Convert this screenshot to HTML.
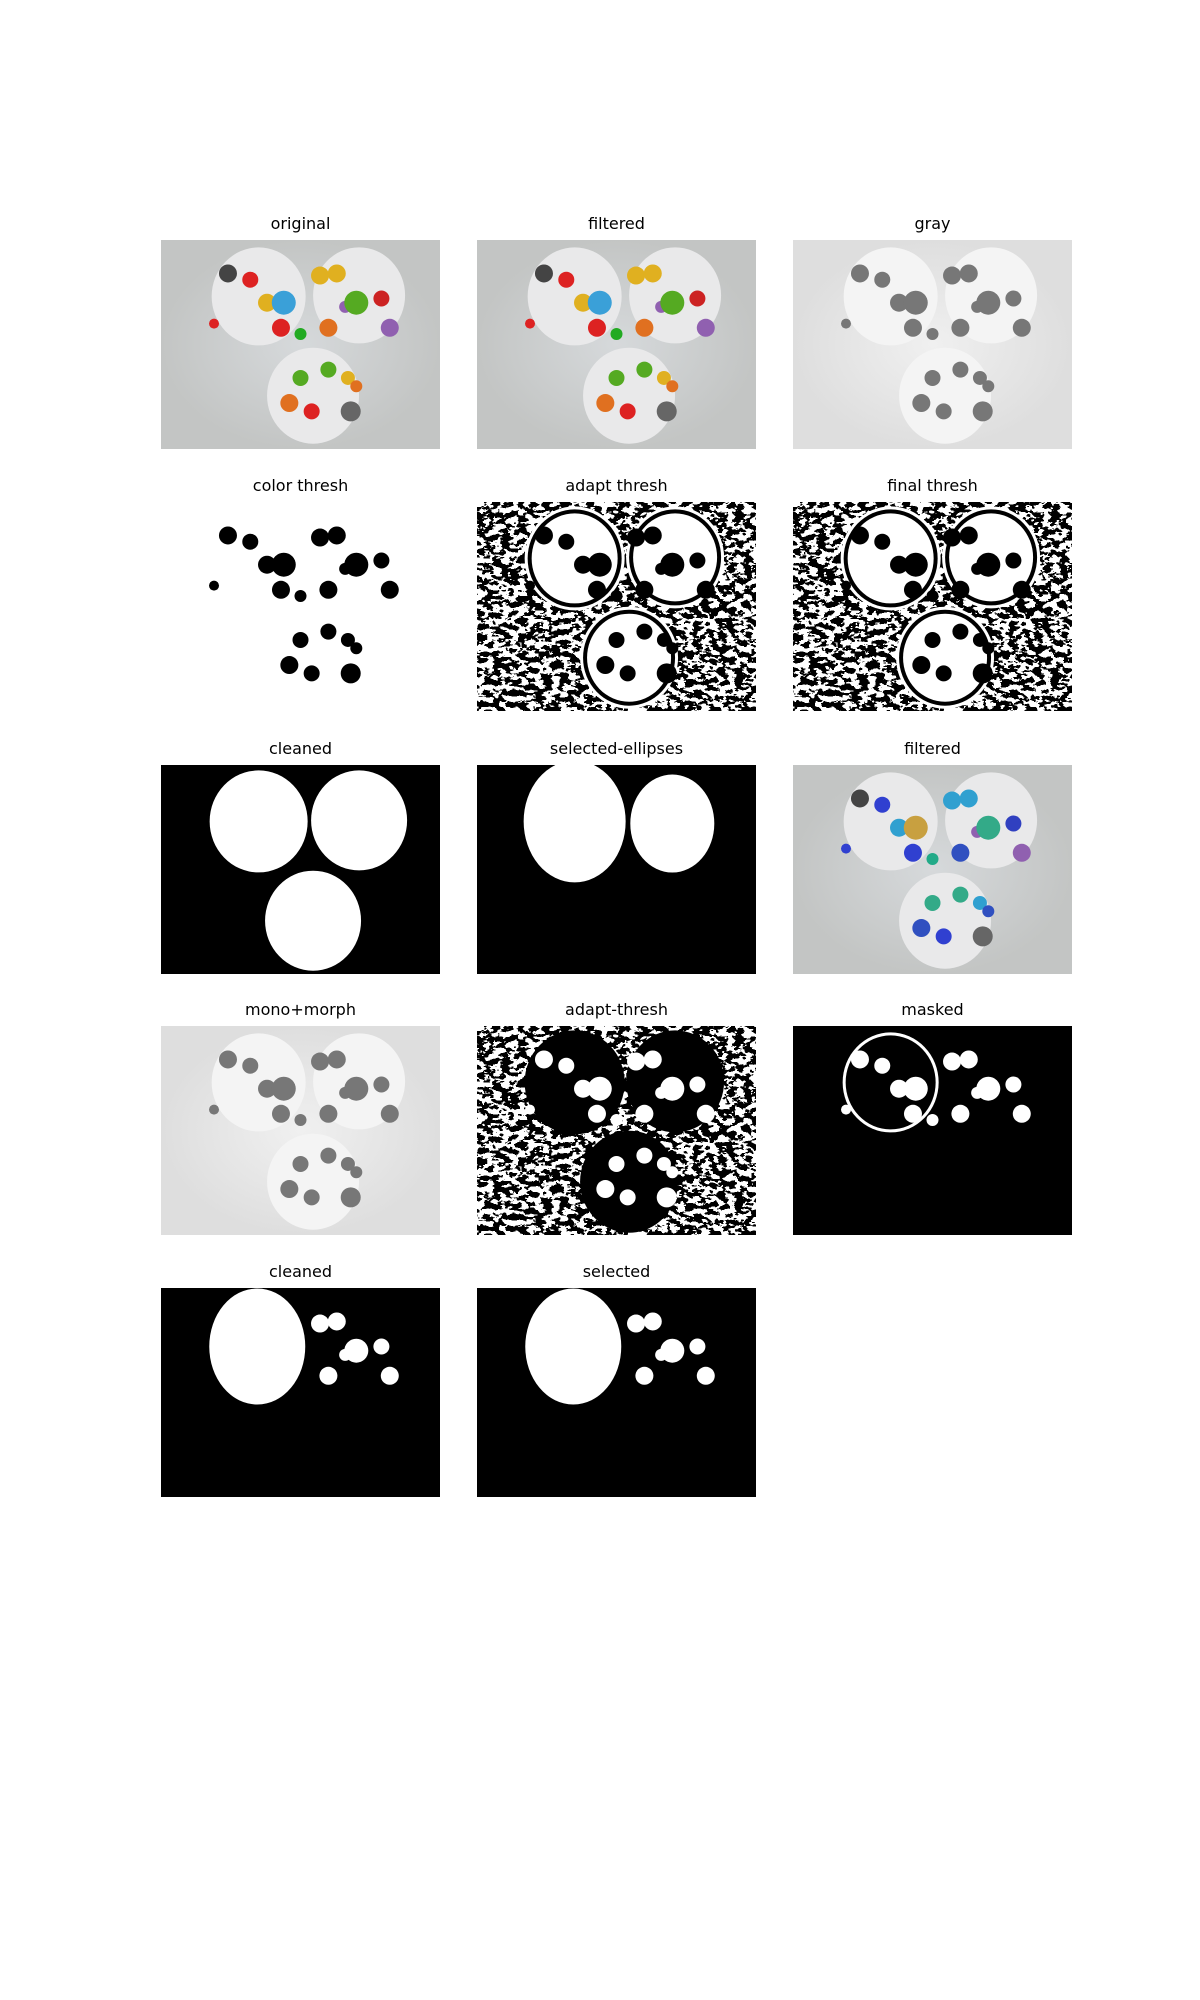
<!DOCTYPE html>
<html><head><meta charset="utf-8">
<style>
html,body{margin:0;padding:0;background:#fff;}
body{width:1200px;height:2000px;position:relative;overflow:hidden;font-family:"DejaVu Sans","Liberation Sans",sans-serif;}
.ttl{position:absolute;width:279px;text-align:center;font-size:16px;color:#000;line-height:20px;}
svg.p{position:absolute;}
</style></head>
<body>
<svg width="0" height="0" style="position:absolute">
<defs>
<filter id="noise" x="0" y="0" width="100%" height="100%">
<feTurbulence type="fractalNoise" baseFrequency="0.12 0.18" numOctaves="3" seed="4"/>
<feColorMatrix type="matrix" values="0.33 0.33 0.33 0 0 0.33 0.33 0.33 0 0 0.33 0.33 0.33 0 0 0 0 0 0 1"/>
<feComponentTransfer><feFuncR type="discrete" tableValues="0 1"/><feFuncG type="discrete" tableValues="0 1"/><feFuncB type="discrete" tableValues="0 1"/></feComponentTransfer>
</filter>
<radialGradient id="bg"><stop offset="0" stop-color="#d6d9db"/><stop offset="1" stop-color="#c3c5c4"/></radialGradient>
<radialGradient id="bgg"><stop offset="0" stop-color="#f0f0f0"/><stop offset="1" stop-color="#dedede"/></radialGradient>
</defs></svg>
<div id="root"></div>
<script>
const titles=["original","filtered","gray","color thresh","adapt thresh","final thresh","cleaned","selected-ellipses","filtered","mono+morph","adapt-thresh","masked","cleaned","selected"];
const kinds=["photo","photo","gray","color","noise","noise","clean","ellipse","blue","gray","noise2","masked","sel","sel"];
const colX=[161,477,793];
const rowY=[240,502,765,1026,1288];
const W=279,H=209;
const circCx=[0.35,0.71,0.545];
const circCy=[0.27,0.265,0.745];
const circR=[47,46,46];
const icX=[0.24,0.32,0.38,0.44,0.19,0.43,0.50,0.57,0.63,0.79,0.66,0.70,0.60,0.82,0.50,0.60,0.67,0.46,0.54,0.70,0.68];
const icY=[0.16,0.19,0.30,0.30,0.40,0.42,0.45,0.17,0.16,0.28,0.32,0.30,0.42,0.42,0.66,0.62,0.66,0.78,0.82,0.70,0.82];
const icS=[9,8,9,12,5,9,6,9,9,8,6,12,9,9,8,8,7,9,8,6,10];
const icC=["#444","#d22","#e0b020","#3aa0d8","#d22","#d22","#2a2","#e0b020","#e0b020","#c22","#9060b0","#5a2","#e07020","#9060b0","#5a2","#5a2","#e0b020","#e07020","#d22","#e07020","#666"];
const blueC={"#444":"#444","#d22":"#3040d0","#e0b020":"#30a0d0","#3aa0d8":"#c8a040","#2a2":"#2a8","#c22":"#3040c0","#9060b0":"#9060b0","#5a2":"#3a8","#e07020":"#3050c0","#666":"#666"};
const ns="http://www.w3.org/2000/svg";
function mk(t,a){const e=document.createElementNS(ns,t);for(const k in a)e.setAttribute(k,a[k]);return e;}
const root=document.getElementById('root');
titles.forEach((t,i)=>{
 const x=colX[i%3],y=rowY[Math.floor(i/3)],k=kinds[i];
 const d=document.createElement('div');
 d.className='ttl';d.style.left=x+'px';d.style.top=(y-26)+'px';d.textContent=t;
 
 
 root.appendChild(d);
 const s=mk('svg',{class:'p',width:W,height:H,viewBox:`0 0 ${W} ${H}`});
 s.style.left=x+'px';s.style.top=y+'px';
 
 
 const circ=(j,f,ex)=>mk('ellipse',{cx:circCx[j]*W,cy:circCy[j]*H,rx:circR[j]+(ex||0),ry:circR[j]+(ex||0)+2,fill:f});
 const icons=(cf,filt)=>{icX.forEach((ix,m)=>{if(filt&&!filt(m))return;s.appendChild(mk('circle',{cx:ix*W,cy:icY[m]*H,r:icS[m],fill:cf(icC[m],m)}));});};
 if(k==='photo'||k==='blue'||k==='gray'){
  s.appendChild(mk('rect',{width:W,height:H,fill:k==='gray'?'url(#bgg)':'url(#bg)'}));
  for(let j=0;j<3;j++)s.appendChild(circ(j,k==='gray'?'#f4f4f4':'#e9e9ea'));
  icons(c=>k==='photo'?c:(k==='blue'?blueC[c]:'#777'));
 }else if(k==='color'){
  s.appendChild(mk('rect',{width:W,height:H,fill:'#fff'}));
  icons(()=>'#000');
 }else if(k==='noise'||k==='noise2'){
  s.appendChild(mk('rect',{width:W,height:H,fill:'#fff',filter:'url(#noise)'}));
  for(let j=0;j<3;j++){s.appendChild(circ(j,k==='noise'?'#fff':'#000',3));s.appendChild(circ(j,'#000',0));s.appendChild(circ(j,k==='noise'?'#fff':'#000',-4));}
  icons(()=>k==='noise'?'#000':'#fff');
 }else if(k==='clean'){
  s.appendChild(mk('rect',{width:W,height:H,fill:'#000'}));
  for(let j=0;j<3;j++)s.appendChild(circ(j,'#fff',2));
 }else if(k==='ellipse'){
  s.appendChild(mk('rect',{width:W,height:H,fill:'#000'}));
  s.appendChild(mk('ellipse',{cx:0.35*W,cy:0.27*H,rx:51,ry:61,fill:'#fff'}));
  s.appendChild(mk('ellipse',{cx:0.70*W,cy:0.28*H,rx:42,ry:49,fill:'#fff'}));
 }else if(k==='masked'){
  s.appendChild(mk('rect',{width:W,height:H,fill:'#000'}));
  s.appendChild(circ(0,'#fff',1));s.appendChild(circ(0,'#000',-2));
  icons(()=>'#fff',m=>m<14);
 }else{
  s.appendChild(mk('rect',{width:W,height:H,fill:'#000'}));
  s.appendChild(mk('ellipse',{cx:0.345*W,cy:0.28*H,rx:48,ry:58,fill:'#fff'}));
  icons(()=>'#fff',m=>m>=7&&m<14);
 }
 root.appendChild(s);
});
</script>
</body></html>
